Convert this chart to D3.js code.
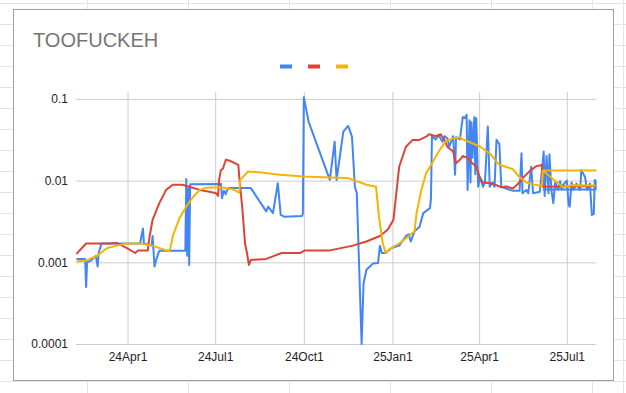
<!DOCTYPE html>
<html>
<head>
<meta charset="utf-8">
<script src="https://cdn.jsdelivr.net/npm/d3@7"></script>
<style>
  body { margin: 0; background: #fff; }
  svg { display: block; font-family: Arial, "Liberation Sans", sans-serif; }
</style>
</head>
<body>
<svg id="chart" width="626" height="393"></svg>
<script>
// series: [date, value]
const blueSeries = [
  ["2024-02-08",0.0011],["2024-02-17",0.0011],["2024-02-18",0.0005],["2024-02-19",0.001],
  ["2024-02-23",0.00105],["2024-02-28",0.0012],["2024-03-01",0.00089],["2024-03-02",0.0013],
  ["2024-03-05",0.0017],["2024-04-14",0.0017],["2024-04-17",0.0026],["2024-04-18",0.0017],
  ["2024-04-26",0.0016],["2024-04-27",0.0021],["2024-04-29",0.00089],["2024-05-01",0.0011],
  ["2024-05-04",0.00139],["2024-05-31",0.00139],["2024-06-01",0.0105],["2024-06-02",0.0012],
  ["2024-06-03",0.008],["2024-06-04",0.00093],["2024-06-05",0.009],["2024-07-07",0.0091],
  ["2024-07-08",0.0061],["2024-07-10",0.0075],["2024-07-12",0.0068],["2024-07-13",0.0075],
  ["2024-07-15",0.0081],["2024-08-07",0.0081],["2024-08-23",0.0042],["2024-08-25",0.0048],
  ["2024-08-30",0.004],["2024-09-04",0.0093],["2024-09-07",0.0038],["2024-09-11",0.0036],
  ["2024-09-29",0.0037],["2024-09-30",0.0039],["2024-10-01",0.105],["2024-10-06",0.0525],
  ["2024-10-28",0.0102],["2024-11-02",0.03],["2024-11-04",0.0102],["2024-11-11",0.0398],
  ["2024-11-16",0.0467],["2024-11-20",0.0345],["2024-11-23",0.0084],["2024-11-25",0.007],
  ["2024-11-30",0.0001],["2024-12-02",0.00055],["2024-12-05",0.00081],["2024-12-12",0.00097],
  ["2024-12-17",0.00098],["2024-12-19",0.0016],["2024-12-21",0.0013],["2024-12-25",0.0013],
  ["2024-12-31",0.0015],["2025-01-08",0.0016],["2025-01-15",0.0021],["2025-01-18",0.0022],
  ["2025-01-20",0.0018],["2025-01-24",0.0024],["2025-01-29",0.0027],["2025-02-02",0.004],
  ["2025-02-09",0.0046],["2025-02-10",0.0061],["2025-02-11",0.0345],["2025-02-15",0.032],
  ["2025-02-18",0.036],["2025-02-22",0.03],["2025-02-24",0.035],["2025-02-27",0.033],
  ["2025-03-01",0.026],["2025-03-05",0.035],["2025-03-07",0.0118],["2025-03-08",0.034],
  ["2025-03-12",0.032],["2025-03-15",0.06],["2025-03-17",0.058],["2025-03-19",0.064],
  ["2025-03-20",0.0077],["2025-03-22",0.055],["2025-03-23",0.0095],["2025-03-24",0.052],
  ["2025-03-25",0.019],["2025-03-27",0.06],["2025-03-28",0.012],["2025-03-29",0.058],
  ["2025-03-31",0.0084],["2025-04-02",0.011],["2025-04-05",0.0084],["2025-04-07",0.0095],
  ["2025-04-10",0.046],["2025-04-12",0.0084],["2025-04-15",0.0095],["2025-04-17",0.0084],
  ["2025-04-19",0.0317],["2025-04-22",0.028],["2025-04-24",0.0084],["2025-04-29",0.008],
  ["2025-05-06",0.0075],["2025-05-13",0.0075],["2025-05-15",0.0216],["2025-05-16",0.007],
  ["2025-05-20",0.0077],["2025-05-22",0.007],["2025-05-25",0.0148],["2025-05-27",0.007],
  ["2025-06-03",0.0073],["2025-06-07",0.0227],["2025-06-08",0.0065],["2025-06-10",0.02],
  ["2025-06-12",0.007],["2025-06-13",0.021],["2025-06-15",0.0077],["2025-06-17",0.0053],
  ["2025-06-19",0.0095],["2025-06-22",0.0077],["2025-06-24",0.0098],["2025-06-26",0.0077],
  ["2025-06-27",0.0088],["2025-07-01",0.01],["2025-07-03",0.005],["2025-07-04",0.0048],
  ["2025-07-06",0.0095],["2025-07-08",0.0077],["2025-07-11",0.0092],["2025-07-15",0.0077],
  ["2025-07-16",0.0135],["2025-07-20",0.011],["2025-07-22",0.0077],["2025-07-25",0.0092],
  ["2025-07-27",0.0038],["2025-07-29",0.0039],["2025-07-30",0.0102],["2025-07-31",0.0098],
  ["2025-07-31",0.0078],["2025-06-06",0.0078]
];

const redSeries = [
  ["2024-02-08",0.00127],["2024-02-18",0.0017],["2024-03-14",0.0017],["2024-03-21",0.00172],
  ["2024-03-31",0.0015],["2024-04-09",0.0013],["2024-04-12",0.0014],["2024-04-22",0.0014],
  ["2024-04-24",0.0021],["2024-04-27",0.0033],["2024-05-04",0.0053],["2024-05-11",0.0077],
  ["2024-05-18",0.0089],["2024-05-28",0.0089],["2024-06-04",0.0084],["2024-06-15",0.0077],
  ["2024-06-25",0.0073],["2024-07-02",0.007],["2024-07-04",0.0065],["2024-07-05",0.0102],
  ["2024-07-07",0.0135],["2024-07-09",0.014],["2024-07-12",0.018],["2024-07-16",0.0175],
  ["2024-07-25",0.0156],["2024-07-26",0.011],["2024-07-29",0.0048],["2024-08-01",0.0017],
  ["2024-08-03",0.0013],["2024-08-05",0.00093],["2024-08-07",0.00107],["2024-08-23",0.0011],
  ["2024-09-08",0.0013],["2024-09-27",0.0013],["2024-10-02",0.0014],["2024-10-28",0.0014],
  ["2024-11-21",0.0016],["2024-12-05",0.0018],["2024-12-19",0.0021],["2024-12-27",0.0025],
  ["2025-01-02",0.0033],["2025-01-05",0.007],["2025-01-08",0.0148],["2025-01-15",0.026],
  ["2025-01-22",0.0315],["2025-01-29",0.0315],["2025-02-05",0.0345],["2025-02-08",0.037],
  ["2025-02-15",0.035],["2025-02-20",0.037],["2025-02-24",0.0315],["2025-02-27",0.026],
  ["2025-03-05",0.0227],["2025-03-08",0.0163],["2025-03-12",0.018],["2025-03-15",0.02],
  ["2025-03-20",0.019],["2025-03-25",0.0163],["2025-03-29",0.0148],["2025-04-02",0.0107],
  ["2025-04-05",0.0095],["2025-04-15",0.0092],["2025-04-24",0.0083],["2025-04-29",0.0085],
  ["2025-05-06",0.008],["2025-05-11",0.009],["2025-05-16",0.0107],["2025-05-23",0.0129],
  ["2025-05-30",0.015],["2025-06-05",0.0156],["2025-06-06",0.0084],["2025-07-31",0.0086]
];

const yellowSeries = [
  ["2024-02-08",0.00102],["2024-02-18",0.00105],["2024-02-29",0.0012],["2024-03-11",0.0015],
  ["2024-03-21",0.0016],["2024-03-31",0.0017],["2024-04-14",0.0017],["2024-04-27",0.0016],
  ["2024-05-11",0.0014],["2024-05-15",0.0014],["2024-05-18",0.0021],["2024-05-25",0.0035],
  ["2024-06-01",0.0048],["2024-06-08",0.0063],["2024-06-15",0.0077],["2024-06-22",0.0082],
  ["2024-07-06",0.0083],["2024-07-20",0.0078],["2024-07-26",0.0071],["2024-07-27",0.0102],
  ["2024-08-04",0.0129],["2024-08-16",0.0127],["2024-09-06",0.0118],["2024-10-01",0.0112],
  ["2024-10-21",0.011],["2024-11-15",0.0108],["2024-11-23",0.01],["2024-12-05",0.0089],
  ["2024-12-15",0.0084],["2024-12-18",0.0036],["2024-12-22",0.0017],["2024-12-25",0.0013],
  ["2024-12-29",0.00145],["2025-01-08",0.0017],["2025-01-18",0.0021],["2025-01-24",0.0024],
  ["2025-01-26",0.004],["2025-01-31",0.0077],["2025-02-05",0.0123],["2025-02-12",0.017],
  ["2025-02-18",0.0227],["2025-02-25",0.03],["2025-03-05",0.033],["2025-03-12",0.034],
  ["2025-03-15",0.032],["2025-03-25",0.0287],["2025-04-02",0.026],["2025-04-12",0.0216],
  ["2025-04-22",0.0156],["2025-04-27",0.015],["2025-05-06",0.0138],["2025-05-13",0.011],
  ["2025-05-20",0.0095],["2025-05-27",0.009],["2025-06-05",0.0086],["2025-06-06",0.0133],
  ["2025-07-31",0.0133],["2025-06-06",0.0133],["2025-06-27",0.0083],["2025-07-06",0.0088],
  ["2025-07-31",0.0087]
];

const seriesList = [blueSeries, redSeries, yellowSeries];
const seriesColors = ["#4285f4", "#db4437", "#f4b400"];
const yTicks = [0.0001, 0.001, 0.01, 0.1];
const yTickLabels = ["0.0001", "0.001", "0.01", "0.1"];
const xDomain = ["2024-02-07T12:00Z", "2025-07-31T00:00Z"];
const chartTitle = "TOOFUCKEH";

const svg = d3.select("#chart");
const W = 626, H = 393;

// spreadsheet cells behind the chart
const colLines = [87, 188, 289, 390, 491, 592, 623];
svg.append("g").selectAll("line.col").data(colLines).join("line")
  .attr("x1", d => d + 0.5).attr("x2", d => d + 0.5)
  .attr("y1", 0).attr("y2", H)
  .attr("stroke", "#e2e3e3");
svg.append("g").selectAll("line.row").data(d3.range(3, H, 21)).join("line")
  .attr("x1", 0).attr("x2", W)
  .attr("y1", d => d + 0.5).attr("y2", d => d + 0.5)
  .attr("stroke", "#e2e3e3");

// chart box
svg.append("rect")
  .attr("x", 13.5).attr("y", 9.5)
  .attr("width", 600).attr("height", 371)
  .attr("fill", "#fff")
  .attr("stroke", "#9e9e9e");

svg.append("text")
  .attr("x", 33).attr("y", 47)
  .attr("font-size", 20)
  .attr("fill", "#757575")
  .text(chartTitle);

// legend swatches (series have no names)
svg.append("g").selectAll("rect").data(seriesColors).join("rect")
  .attr("x", (d, i) => 280 + i * 28).attr("y", 64.5)
  .attr("width", 12).attr("height", 4)
  .attr("fill", d => d);

const x = d3.scaleUtc()
  .domain(xDomain.map(d => new Date(d)))
  .range([76, 595.7]);

const y = d3.scaleLog()
  .domain([0.0001, 0.1216])
  .range([344, 92]);

const parse = d3.utcParse("%Y-%m-%d");

// vertical gridlines + labels
const xAxis = d3.axisBottom(x)
  .ticks(d3.utcMonth.every(3))
  .tickSize(-(y.range()[0] - y.range()[1]))
  .tickPadding(8)
  .tickFormat(d3.utcFormat("%y%b%-d"));

const xAxisG = svg.append("g")
  .attr("transform", `translate(0,${y.range()[0]})`)
  .call(xAxis)
  .call(g => g.select(".domain").remove());
xAxisG.selectAll(".tick line").attr("stroke", "#cccccc");
xAxisG.selectAll(".tick text")
  .attr("font-size", 12).attr("fill", "#222")
  .attr("font-family", "Arial, 'Liberation Sans', sans-serif");

const yAxis = d3.axisLeft(y)
  .tickValues(yTicks)
  .tickSize(-(x.range()[1] - x.range()[0]))
  .tickPadding(8)
  .tickFormat((d, i) => yTickLabels[i]);

const yAxisG = svg.append("g")
  .attr("transform", `translate(${x.range()[0]},0)`)
  .call(yAxis)
  .call(g => g.select(".domain").remove());
yAxisG.selectAll(".tick line").attr("stroke", "#cccccc");
yAxisG.selectAll(".tick text")
  .attr("font-size", 12).attr("fill", "#222")
  .attr("font-family", "Arial, 'Liberation Sans', sans-serif");

const line = d3.line()
  .x(d => x(parse(d[0])))
  .y(d => y(d[1]));

svg.append("g").selectAll("path").data(seriesList).join("path")
  .attr("d", line)
  .attr("fill", "none")
  .attr("stroke", (d, i) => seriesColors[i])
  .attr("stroke-width", 2)
  .attr("stroke-linejoin", "round");
</script>
</body>
</html>
